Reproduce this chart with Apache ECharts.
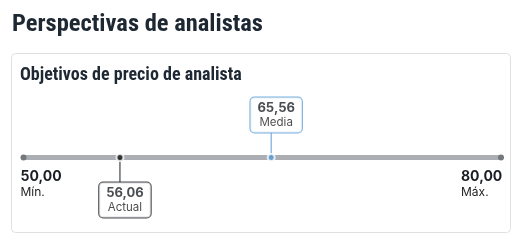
<!DOCTYPE html>
<html><head><meta charset="utf-8">
<script src="https://cdn.jsdelivr.net/npm/echarts@6/dist/echarts.min.js"></script>
<style>html,body{margin:0;padding:0;background:#fff}#c{width:522px;height:240px}</style>
</head><body><div id="c"></div>
<script>
const titleText = 'Perspectivas de analistas';
const subtitleText = 'Objetivos de precio de analista';
const rangeValues = [50.00, 80.00];
const rangeLabels = ['Mín.', 'Máx.'];
const markerValues = [56.06, 65.56];
const markerLabels = ['Actual', 'Media'];

const fmt = v => v.toFixed(2).replace('.', ',');
const sans = 'Inter, "Liberation Sans", Arial, sans-serif';
const ink = '#1b1f24';
const blue = '#5b9bd5';

const chart = echarts.init(document.getElementById('c'), null, {renderer: 'canvas'});

const boxRich = {
  v: {fontFamily: sans, fontSize: 13, fontWeight: 'bold', color: ink, lineHeight: 15, align: 'center'},
  l: {fontFamily: sans, fontSize: 11.5, color: '#222', lineHeight: 14, align: 'center'}
};
const endRich = {
  v: {fontFamily: sans, fontSize: 14, fontWeight: 'bold', color: ink, lineHeight: 15, width: 39, align: 'left'},
  l: {fontFamily: sans, fontSize: 12, color: '#222', lineHeight: 15, width: 39, align: 'left'}
};

chart.setOption({
  animation: false,
  title: [
    {text: titleText, left: 12, top: 12, padding: 0,
     textStyle: {fontFamily: 'Roboto', fontSize: 24.5, fontWeight: 'bold condensed', color: '#1e2833'}},
    {text: subtitleText, left: 20, top: 66, padding: 0,
     textStyle: {fontFamily: 'Roboto', fontSize: 18, fontWeight: 'bold condensed', color: '#1e2833'}}
  ],
  graphic: [
    {type: 'rect', z: -1, shape: {x: 11.5, y: 53.5, width: 499, height: 179, r: 4},
     style: {fill: '#fff', stroke: '#e0e0e0', lineWidth: 1}}
  ],
  grid: {left: 23.5, right: 21, top: 132.5, height: 50},
  xAxis: {type: 'value', min: rangeValues[0], max: rangeValues[1], show: false},
  yAxis: {type: 'value', min: -1, max: 1, show: false},
  series: [
    {
      type: 'line', z: 2,
      data: [
        {value: [rangeValues[0], 0], label: {align: 'left', offset: [-3, 0]}},
        {value: [rangeValues[1], 0], label: {align: 'right', offset: [-1, 0]}}
      ],
      lineStyle: {color: '#abaeb2', width: 5},
      symbol: 'circle', symbolSize: 6,
      itemStyle: {color: '#74787c', borderWidth: 0},
      label: {
        show: true, position: 'bottom', distance: 9,
        formatter: p => '{v|' + fmt(rangeValues[p.dataIndex]) + '}\n{l|' + rangeLabels[p.dataIndex] + '}',
        rich: endRich
      }
    },
    {
      type: 'line', z: 3, silent: true,
      data: [[markerValues[0], 0], [markerValues[0], -1]],
      lineStyle: {color: ink, width: 1},
      symbol: 'none'
    },
    {
      type: 'line', z: 3, silent: true,
      data: [[markerValues[1], 0], [markerValues[1], 1]],
      lineStyle: {color: blue, width: 1},
      symbol: 'none'
    },
    {
      type: 'scatter', z: 5,
      data: [[markerValues[0], 0]],
      symbolSize: 7,
      itemStyle: {color: '#1b1b1b', borderColor: '#fff', borderWidth: 2}
    },
    {
      type: 'scatter', z: 5,
      data: [[markerValues[1], 0]],
      symbolSize: 7,
      itemStyle: {color: '#5b9fd6', borderColor: '#fff', borderWidth: 2}
    },
    {
      type: 'scatter', z: 6, symbolSize: 0,
      data: [[markerValues[0], -1]],
      label: {
        show: true, position: 'bottom', distance: 0, offset: [5, 0],
        formatter: () => '{v|' + fmt(markerValues[0]) + '}\n{l|' + markerLabels[0] + '}',
        backgroundColor: '#fff', borderColor: ink, borderWidth: 1, borderRadius: 4,
        padding: [3, 7, 3, 7], rich: boxRich
      }
    },
    {
      type: 'scatter', z: 6, symbolSize: 0,
      data: [[markerValues[1], 1]],
      label: {
        show: true, position: 'top', distance: 0, offset: [5, 0],
        formatter: () => '{v|' + fmt(markerValues[1]) + '}\n{l|' + markerLabels[1] + '}',
        backgroundColor: '#fff', borderColor: blue, borderWidth: 1, borderRadius: 4,
        padding: [3, 7, 3, 7], rich: boxRich
      }
    }
  ]
});
</script></body></html>
